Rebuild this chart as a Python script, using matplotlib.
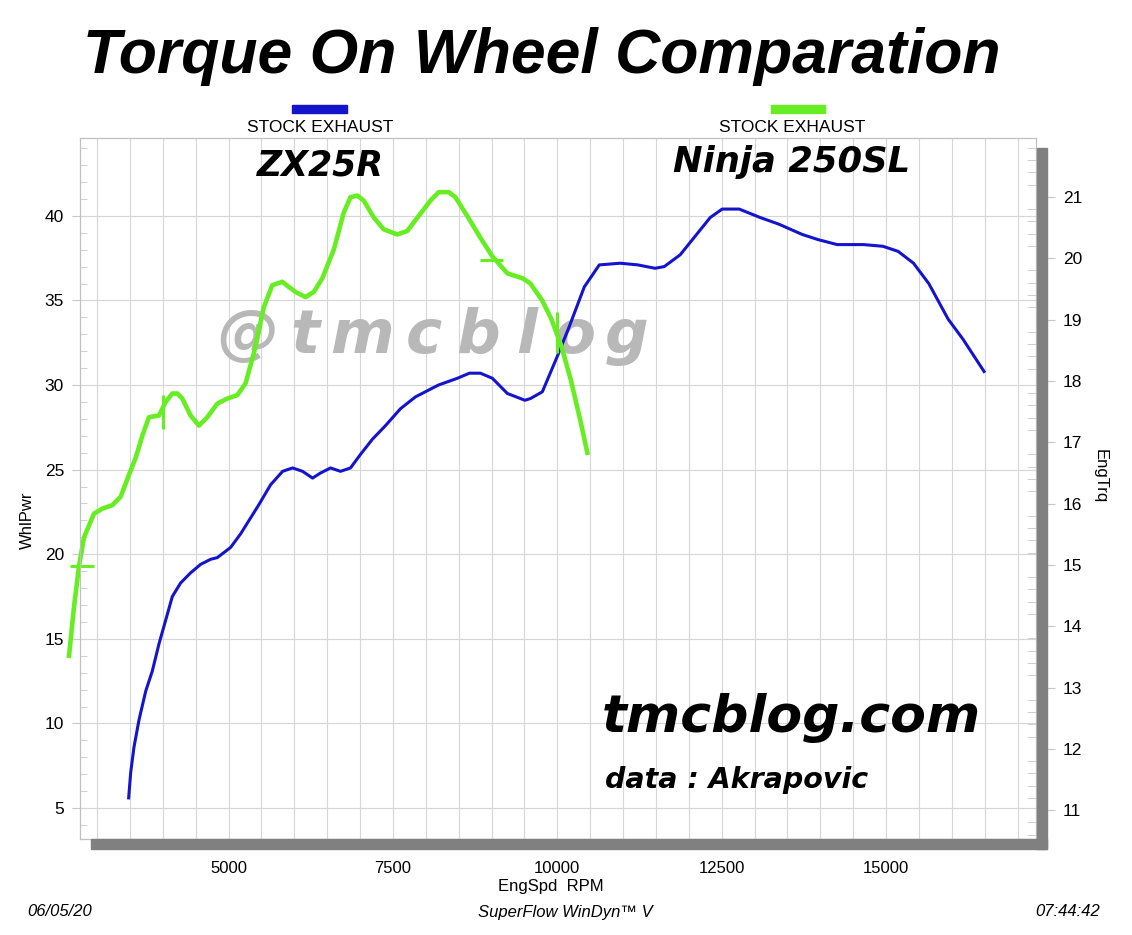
import matplotlib
matplotlib.use('Agg')
import matplotlib.pyplot as plt
from matplotlib.patches import Rectangle
from matplotlib.ticker import MultipleLocator

# data (WhlPwr scale)
blue_rpm = [3480, 3511, 3561, 3637, 3739, 3840, 3941, 4043, 4144, 4270,
            4422, 4574, 4726, 4828, 5030, 5182, 5456, 5638, 5821, 5973,
            6125, 6277, 6398, 6550, 6702, 6854, 7006, 7188, 7386, 7614,
            7842, 8192, 8480, 8663, 8830, 9012, 9240, 9506, 9590, 9772,
            10000, 10176, 10410, 10638, 10957, 11224, 11486, 11626, 11869, 12097,
            12325, 12507, 12766, 13085, 13374, 13724, 13961, 14256, 14660, 14952,
            15183, 15417, 15649, 15943, 16171, 16490]
blue_val = [5.6, 7.1, 8.6, 10.2, 11.9, 13.1, 14.7, 16.1, 17.5, 18.3,
            18.9, 19.4, 19.7, 19.8, 20.4, 21.2, 22.9, 24.1, 24.9, 25.1,
            24.9, 24.5, 24.8, 25.1, 24.9, 25.1, 25.9, 26.8, 27.6, 28.6,
            29.3, 30.0, 30.4, 30.7, 30.7, 30.4, 29.5, 29.1, 29.2, 29.6,
            31.7, 33.4, 35.8, 37.1, 37.2, 37.1, 36.9, 37.0, 37.7, 38.8,
            39.9, 40.4, 40.4, 39.9, 39.5, 38.9, 38.6, 38.3, 38.3, 38.2,
            37.9, 37.2, 36.0, 33.9, 32.7, 30.8]

green_rpm = [2573, 2649, 2725, 2801, 2953, 3080, 3232, 3359, 3485, 3587,
             3688, 3789, 3941, 4043, 4144, 4220, 4296, 4422, 4549, 4676,
             4828, 4980, 5132, 5258, 5385, 5536, 5664, 5816, 5916, 6018,
             6170, 6296, 6424, 6600, 6752, 6854, 6956, 7056, 7208, 7360,
             7564, 7716, 7892, 8070, 8196, 8348, 8450, 8628, 8830, 9012,
             9240, 9477, 9590, 9769, 9909, 10061, 10205, 10350, 10456]
green_val = [14.0, 16.9, 19.3, 21.0, 22.4, 22.7, 22.9, 23.4, 24.7, 25.7,
             27.0, 28.1, 28.2, 29.0, 29.5, 29.5, 29.2, 28.2, 27.6, 28.1,
             28.9, 29.2, 29.4, 30.1, 31.9, 34.6, 35.9, 36.1, 35.8, 35.5,
             35.2, 35.5, 36.3, 38.0, 40.2, 41.1, 41.2, 40.9, 39.9, 39.2,
             38.9, 39.1, 40.0, 40.9, 41.4, 41.4, 41.1, 40.0, 38.7, 37.6,
             36.6, 36.3, 36.0, 35.0, 33.9, 32.3, 30.3, 27.9, 26.0]

# cursor marks on the green run: (rpm, y_low, y_high) and (y, rpm_low, rpm_high)
cursor_v = [(4000, 27.4, 29.4), (10000, 31.9, 34.3)]
cursor_h = [(19.3, 2590, 2950), (37.4, 8830, 9180)]

x_ticks = [5000, 7500, 10000, 12500, 15000]
left_ticks = [5, 10, 15, 20, 25, 30, 35, 40]
right_ticks = [11, 12, 13, 14, 15, 16, 17, 18, 19, 20, 21]

blue = '#1414cc'
green = '#66ee22'
grid_c = '#d6d6d6'
arial = ['Liberation Sans', 'DejaVu Sans']
wide = ['DejaVu Sans']

W, H = 1132, 935


def fx(px):
    return px / W


def fy(py):
    return 1 - py / H


fig = plt.figure(figsize=(W / 100, H / 100), dpi=100)
ax = fig.add_axes([fx(80), fy(839), fx(1036) - fx(80), fy(138) - fy(839)])

ax.set_xlim(2740, 17280)
ax.set_ylim(3.17, 44.6)
ax.set_xticks(x_ticks)
ax.set_yticks(left_ticks)
ax.xaxis.set_minor_locator(MultipleLocator(500))
ax.yaxis.set_minor_locator(MultipleLocator(1))
ax.grid(which='both', axis='x', color=grid_c, lw=0.8)
ax.grid(which='major', axis='y', color=grid_c, lw=0.8)
ax.set_axisbelow(True)
ax.tick_params(axis='x', which='major', direction='out', length=7.5, color='#c8c8c8', pad=8, labelsize=12)
ax.tick_params(axis='x', which='minor', length=0)
ax.tick_params(axis='y', which='major', direction='out', length=6, color='#c8c8c8', pad=5.5, labelsize=12.5)
ax.tick_params(axis='y', which='minor', direction='in', length=5, color='#c8c8c8')
for lab in ax.get_xticklabels() + ax.get_yticklabels():
    lab.set_family(arial)
for s in ax.spines.values():
    s.set_color('#c0c0c0')

ax2 = ax.twinx()
ax2.set_ylim(10.53, 21.96)
ax2.set_yticks(right_ticks)
ax2.yaxis.set_minor_locator(MultipleLocator(0.2))
ax2.tick_params(axis='y', which='major', direction='out', length=14, color='#c8c8c8', pad=5.5, labelsize=12.5)
ax2.tick_params(axis='y', which='minor', direction='in', length=6.5, color='#c8c8c8')
for lab in ax2.get_yticklabels():
    lab.set_family(arial)
for s in ax2.spines.values():
    s.set_color('#c0c0c0')

# watermark behind the curves
wm_letters = ['@', 't', 'm', 'c', 'b', 'l', 'o', 'g']
wm_x = [248, 305, 362, 424, 478, 527, 575, 627]
for ch, px in zip(wm_letters, wm_x):
    ax.text(fx(px), fy(353), ch, transform=fig.transFigure, ha='center', va='baseline',
            fontsize=44, fontweight='bold', fontstyle='italic', family=wide,
            color='#b8b8b8', zorder=1)

# runs
ax.plot(blue_rpm, blue_val, color=blue, lw=2.2, zorder=3, solid_joinstyle='round')
ax.plot(green_rpm, green_val, color=green, lw=3.3, zorder=4, clip_on=False, solid_joinstyle='round')
for x, y0, y1 in cursor_v:
    ax.vlines(x, y0, y1, color=green, lw=2.2, zorder=4, clip_on=False)
for y, x0, x1 in cursor_h:
    ax.hlines(y, x0, x1, color=green, lw=2.2, zorder=4, clip_on=False)

# 3d shadow on the frame
fig.add_artist(Rectangle((fx(1037), fy(849)), fx(1047) - fx(1037), fy(148) - fy(849),
                         transform=fig.transFigure, color='#808080', zorder=5))
fig.add_artist(Rectangle((fx(91), fy(849)), fx(1047) - fx(91), fy(839) - fy(849),
                         transform=fig.transFigure, color='#808080', zorder=5))

# legend swatches
fig.add_artist(Rectangle((fx(292), fy(113)), fx(347) - fx(292), fy(105) - fy(113),
                         transform=fig.transFigure, color=blue))
fig.add_artist(Rectangle((fx(771), fy(113)), fx(825) - fx(771), fy(105) - fy(113),
                         transform=fig.transFigure, color=green))
fig.text(fx(320), fy(128), 'STOCK EXHAUST', ha='center', va='center', fontsize=12.5, family=arial)
fig.text(fx(792), fy(128), 'STOCK EXHAUST', ha='center', va='center', fontsize=12.5, family=arial)

# titles and labels
fig.text(fx(83), fy(73), 'Torque On Wheel Comparation', ha='left', va='baseline',
         fontsize=45, fontweight='bold', fontstyle='italic', family=arial)
fig.text(fx(257), fy(175), 'ZX25R', ha='left', va='baseline',
         fontsize=25, fontweight='bold', fontstyle='italic', family=wide, zorder=6)
fig.text(fx(673), fy(172), 'Ninja 250SL', ha='left', va='baseline',
         fontsize=25.5, fontweight='bold', fontstyle='italic', family=wide, zorder=6)
fig.text(fx(602), fy(732), 'tmcblog.com', ha='left', va='baseline',
         fontsize=37.5, fontweight='bold', fontstyle='italic', family=wide, zorder=6)
fig.text(fx(605), fy(788), 'data : Akrapovic', ha='left', va='baseline',
         fontsize=20.5, fontweight='bold', fontstyle='italic', family=wide, zorder=6)

fig.text(fx(27), fy(520), 'WhlPwr', rotation=90, ha='center', va='center', fontsize=12, family=arial)
fig.text(fx(1100), fy(476), 'EngTrq', rotation=270, ha='center', va='center', fontsize=12, family=arial)
fig.text(fx(551), fy(886), 'EngSpd  RPM', ha='center', va='center', fontsize=12, family=arial)

fig.text(fx(27), fy(912), '06/05/20', ha='left', va='center', fontsize=12, fontstyle='italic', family=arial)
fig.text(fx(565), fy(912), 'SuperFlow WinDyn\u2122 V', ha='center', va='center', fontsize=12,
         fontstyle='italic', family=arial)
fig.text(fx(1100), fy(912), '07:44:42', ha='right', va='center', fontsize=12, fontstyle='italic', family=arial)

fig.savefig('out.png', dpi=100, facecolor='white')
